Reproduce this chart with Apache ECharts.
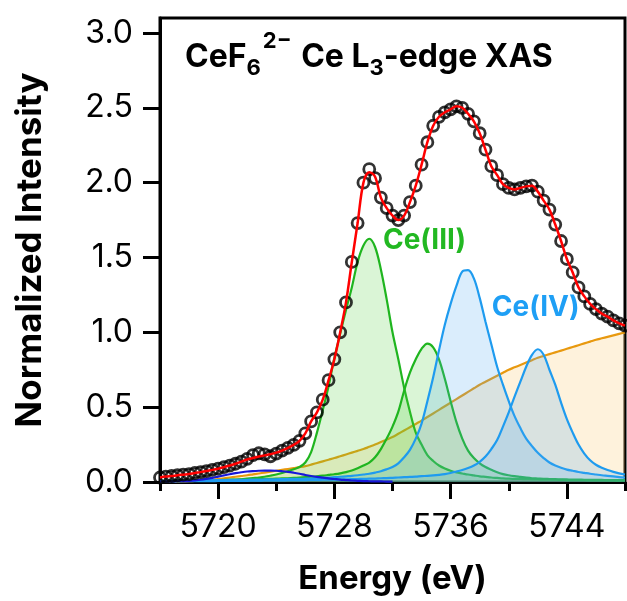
<!DOCTYPE html>
<html><head><meta charset="utf-8">
<script src="https://cdn.jsdelivr.net/npm/echarts@6/dist/echarts.min.js"></script>
<style>html,body{margin:0;padding:0;background:#fff}#c{width:627px;height:601px}</style>
</head><body><div id="c"></div>
<script>
const energy = [
5716.0,5716.4,5716.8,5717.2,5717.6,5718.0,5718.4,5718.8,5719.2,5719.6,
5720.0,5720.4,5720.8,5721.2,5721.6,5722.0,5722.4,5722.8,5723.2,5723.6,
5724.0,5724.4,5724.8,5725.2,5725.6,5726.0,5726.4,5726.8,5727.2,5727.6,
5728.0,5728.4,5728.8,5729.2,5729.6,5730.0,5730.4,5730.8,5731.2,5731.6,
5732.0,5732.4,5732.8,5733.2,5733.6,5734.0,5734.4,5734.8,5735.2,5735.6,
5736.0,5736.4,5736.8,5737.2,5737.6,5738.0,5738.4,5738.8,5739.2,5739.6,
5740.0,5740.4,5740.8,5741.2,5741.6,5742.0,5742.4,5742.8,5743.2,5743.6,
5744.0,5744.4,5744.8,5745.2,5745.6,5746.0,5746.4,5746.8,5747.2,5747.6,
5748.0];
const measured = [
0.030,0.036,0.040,0.045,0.049,0.053,0.060,0.066,0.073,0.081,
0.089,0.099,0.110,0.122,0.136,0.155,0.180,0.192,0.185,0.172,
0.190,0.210,0.228,0.248,0.275,0.325,0.405,0.465,0.550,0.680,
0.820,1.000,1.200,1.470,1.730,2.000,2.090,2.030,1.900,1.830,
1.780,1.750,1.780,1.870,1.980,2.120,2.270,2.380,2.440,2.470,
2.490,2.510,2.500,2.460,2.410,2.330,2.220,2.110,2.050,1.990,
1.965,1.955,1.965,1.975,1.980,1.940,1.880,1.820,1.720,1.610,
1.490,1.400,1.300,1.240,1.190,1.155,1.125,1.105,1.080,1.060,
1.045];
const fit = [
0.030,0.036,0.040,0.045,0.049,0.053,0.060,0.066,0.073,0.081,
0.089,0.099,0.110,0.122,0.136,0.150,0.160,0.170,0.178,0.186,
0.196,0.210,0.228,0.248,0.275,0.325,0.405,0.465,0.550,0.680,
0.820,1.000,1.200,1.470,1.730,2.000,2.070,2.040,1.900,1.830,
1.780,1.750,1.780,1.870,1.980,2.120,2.270,2.380,2.440,2.470,
2.490,2.510,2.500,2.460,2.410,2.330,2.220,2.110,2.050,1.990,
1.965,1.955,1.965,1.975,1.980,1.940,1.880,1.820,1.720,1.610,
1.490,1.400,1.300,1.240,1.190,1.155,1.125,1.105,1.080,1.060,
1.045];
const ce3PeakA = [
0.005,0.005,0.006,0.006,0.007,0.007,0.008,0.009,0.010,0.011,
0.012,0.013,0.014,0.016,0.018,0.022,0.026,0.030,0.035,0.042,
0.050,0.060,0.072,0.085,0.100,0.130,0.200,0.330,0.480,0.640,
0.830,0.990,1.150,1.300,1.470,1.580,1.625,1.570,1.420,1.220,
1.000,0.820,0.630,0.470,0.330,0.250,0.180,0.140,0.110,0.090,
0.075,0.064,0.057,0.050,0.044,0.038,0.034,0.030,0.027,0.024,
0.022,0.021,0.020,0.019,0.018,0.017,0.016,0.015,0.015,0.014,
0.013,0.013,0.012,0.012,0.011,0.011,0.010,0.010,0.010,0.009,
0.009];
const ce3PeakB = [
0.008,0.008,0.009,0.009,0.010,0.010,0.011,0.011,0.012,0.012,
0.013,0.014,0.014,0.015,0.016,0.017,0.018,0.019,0.020,0.021,
0.022,0.024,0.025,0.027,0.030,0.032,0.035,0.038,0.042,0.047,
0.052,0.058,0.066,0.077,0.092,0.110,0.130,0.165,0.220,0.290,
0.370,0.470,0.610,0.730,0.820,0.890,0.925,0.900,0.820,0.690,
0.540,0.400,0.290,0.210,0.160,0.125,0.100,0.082,0.065,0.053,
0.045,0.039,0.034,0.029,0.025,0.023,0.021,0.020,0.019,0.018,
0.017,0.016,0.016,0.015,0.015,0.014,0.014,0.013,0.013,0.012,
0.012];
const ce4PeakA = [
0.008,0.008,0.009,0.009,0.010,0.010,0.011,0.011,0.012,0.012,
0.013,0.013,0.014,0.014,0.015,0.015,0.016,0.016,0.017,0.018,
0.018,0.019,0.020,0.021,0.021,0.022,0.023,0.025,0.027,0.029,
0.032,0.035,0.038,0.041,0.045,0.050,0.055,0.063,0.072,0.085,
0.100,0.125,0.165,0.215,0.290,0.390,0.540,0.700,0.880,1.050,
1.190,1.310,1.405,1.415,1.360,1.230,1.070,0.920,0.770,0.650,
0.540,0.440,0.360,0.290,0.240,0.195,0.160,0.130,0.110,0.095,
0.083,0.075,0.067,0.061,0.055,0.050,0.045,0.041,0.037,0.033,
0.030];
const ce4PeakB = [
0.004,0.004,0.004,0.005,0.005,0.005,0.005,0.006,0.006,0.006,
0.007,0.007,0.007,0.008,0.008,0.008,0.009,0.009,0.010,0.010,
0.011,0.011,0.012,0.012,0.013,0.013,0.014,0.014,0.015,0.015,
0.016,0.017,0.018,0.019,0.020,0.021,0.022,0.023,0.025,0.026,
0.028,0.030,0.032,0.034,0.036,0.039,0.041,0.044,0.048,0.053,
0.060,0.070,0.080,0.093,0.110,0.135,0.170,0.220,0.280,0.370,
0.465,0.570,0.670,0.770,0.850,0.887,0.850,0.750,0.650,0.530,
0.420,0.330,0.250,0.190,0.145,0.115,0.095,0.080,0.068,0.058,
0.050];
const preEdge = [
0.003,0.003,0.004,0.005,0.006,0.008,0.011,0.015,0.021,0.028,
0.036,0.044,0.052,0.059,0.065,0.070,0.073,0.075,0.076,0.076,
0.075,0.072,0.068,0.062,0.055,0.047,0.040,0.034,0.029,0.024,
0.020,0.016,0.013,0.010,0.008,0.006,0.005,0.004,0.004,0.003,
0.003];
const edgeStep = [
0.000,0.001,0.002,0.003,0.004,0.005,0.007,0.010,0.013,0.016,
0.020,0.025,0.030,0.035,0.040,0.045,0.051,0.057,0.063,0.069,
0.075,0.081,0.087,0.093,0.099,0.106,0.116,0.127,0.138,0.149,
0.160,0.172,0.184,0.196,0.208,0.220,0.235,0.250,0.267,0.283,
0.300,0.322,0.344,0.366,0.388,0.410,0.434,0.458,0.482,0.506,
0.530,0.554,0.578,0.602,0.626,0.650,0.670,0.690,0.710,0.730,
0.750,0.766,0.782,0.798,0.814,0.830,0.842,0.854,0.866,0.878,
0.890,0.902,0.914,0.926,0.938,0.950,0.960,0.970,0.980,0.990,
1.000];
const xMajorTicks = [5720, 5728, 5736, 5744];
const xMinorTicks = [5716, 5724, 5732, 5740, 5748];
const yTicks = [0, 0.5, 1.0, 1.5, 2.0, 2.5, 3.0];

const pairs = arr => arr.map((v, i) => [energy[i], v]);

const GREEN = '#1fb51f', LBLUE = '#1e9bef', DBLUE = '#1818d8', ORANGE = '#e8990f';
const FONT = 'Inter';

function comp(data, line, fill, z) {
  return {
    type: 'line', data: pairs(data), smooth: 0.35, showSymbol: false, z: z,
    lineStyle: { color: line, width: 2.2 },
    areaStyle: fill ? { color: fill, origin: 'start' } : undefined,
    xAxisIndex: 0, yAxisIndex: 0, silent: true
  };
}

const chart = echarts.init(document.getElementById('c'), null, { renderer: 'canvas' });
chart.setOption({
  animation: false,
  backgroundColor: '#fff',
  grid: { left: 160, right: 2, top: 18, bottom: 118, show: true, borderColor: '#000', borderWidth: 3, backgroundColor: 'transparent' },
  xAxis: [{
    type: 'value', min: 5716, max: 5748, position: 'bottom',
    axisLine: { show: true, lineStyle: { color: '#000', width: 3 } },
    axisTick: { show: true, customValues: xMajorTicks, length: 17, lineStyle: { color: '#000', width: 3 } },
    axisLabel: { customValues: xMajorTicks, color: '#000', fontSize: 32, fontFamily: FONT, margin: 29, formatter: v => String(v) },
    splitLine: { show: false },
    name: 'Energy (eV)', nameLocation: 'middle', nameGap: 81,
    nameTextStyle: { color: '#000', fontSize: 33, fontWeight: 'bold', fontFamily: FONT }
  }, {
    type: 'value', min: 5716, max: 5748, position: 'bottom',
    axisLine: { show: false },
    axisTick: { show: true, customValues: xMinorTicks, length: 9, lineStyle: { color: '#000', width: 3 } },
    axisLabel: { show: false }, splitLine: { show: false }
  }],
  yAxis: {
    type: 'value', min: 0, max: 3.1,
    axisLine: { show: true, lineStyle: { color: '#000', width: 3 } },
    axisTick: { show: true, customValues: yTicks, length: 17, lineStyle: { color: '#000', width: 3 } },
    axisLabel: { customValues: yTicks, color: '#000', fontSize: 32, fontFamily: FONT, margin: 27, formatter: v => v.toFixed(1) },
    splitLine: { show: false },
    name: 'Normalized Intensity', nameLocation: 'middle', nameGap: 112, nameRotate: 90,
    nameTextStyle: { color: '#000', fontSize: 35, fontWeight: 'bold', fontFamily: FONT }
  },
  series: [
    comp(edgeStep, ORANGE, 'rgba(250,200,110,0.35)', 1),
    comp(ce3PeakA, GREEN, 'rgba(80,210,60,0.30)', 2),
    comp(ce3PeakB, GREEN, 'rgba(80,210,60,0.30)', 3),
    comp(ce4PeakA, LBLUE, 'rgba(80,170,240,0.30)', 4),
    comp(ce4PeakB, LBLUE, 'rgba(80,170,240,0.30)', 5),
    comp(preEdge, DBLUE, null, 6),
    {
      type: 'scatter', data: pairs(measured), symbol: 'circle', symbolSize: 11, z: 7, silent: true,
      itemStyle: { color: 'rgba(0,0,0,0)', borderColor: '#000', borderWidth: 2.8 }
    },
    {
      type: 'line', data: pairs(fit), smooth: 0.35, showSymbol: false, z: 8, silent: true,
      lineStyle: { color: '#ff0000', width: 2.5 }
    }
  ]
});

// title with sub/superscripts
const ctx = document.createElement('canvas').getContext('2d');
function tw(t, f) { ctx.font = f; return ctx.measureText(t).width; }
const mainF = 'bold 32px ' + FONT, smallF = 'bold 22px ' + FONT;
const pieces = [
  { t: 'CeF', f: mainF, s: 32, b: 70, gap: 0 },
  { t: '6', f: smallF, s: 22, b: 77, gap: 0 },
  { t: '2\u2212', f: smallF, s: 22, b: 50, gap: 2 },
  { t: ' Ce L', f: mainF, s: 32, b: 70, gap: 2 },
  { t: '3', f: smallF, s: 22, b: 77, gap: 0 },
  { t: '-edge XAS', f: mainF, s: 32, b: 70, gap: 0 }
];
const graphics = [];
let x = 185;
pieces.forEach(p => {
  x += p.gap;
  graphics.push({ type: 'text', z: 100, style: { text: p.t, x: x, y: p.b - 0.9 * p.s, font: p.f, fill: '#000', verticalAlign: 'top', align: 'left' } });
  x += tw(p.t, p.f);
});
const p3 = chart.convertToPixel({ gridIndex: 0 }, [5734.2, 1.61]);
const p4 = chart.convertToPixel({ gridIndex: 0 }, [5741.85, 1.167]);
graphics.push({ type: 'text', z: 100, style: { text: 'Ce(III)', x: p3[0], y: p3[1], font: 'bold 28px ' + FONT, fill: '#22b822', align: 'center', verticalAlign: 'middle' } });
graphics.push({ type: 'text', z: 100, style: { text: 'Ce(IV)', x: p4[0], y: p4[1], font: 'bold 28px ' + FONT, fill: '#1e9ff5', align: 'center', verticalAlign: 'middle' } });
chart.setOption({ graphic: graphics });
</script></body></html>
